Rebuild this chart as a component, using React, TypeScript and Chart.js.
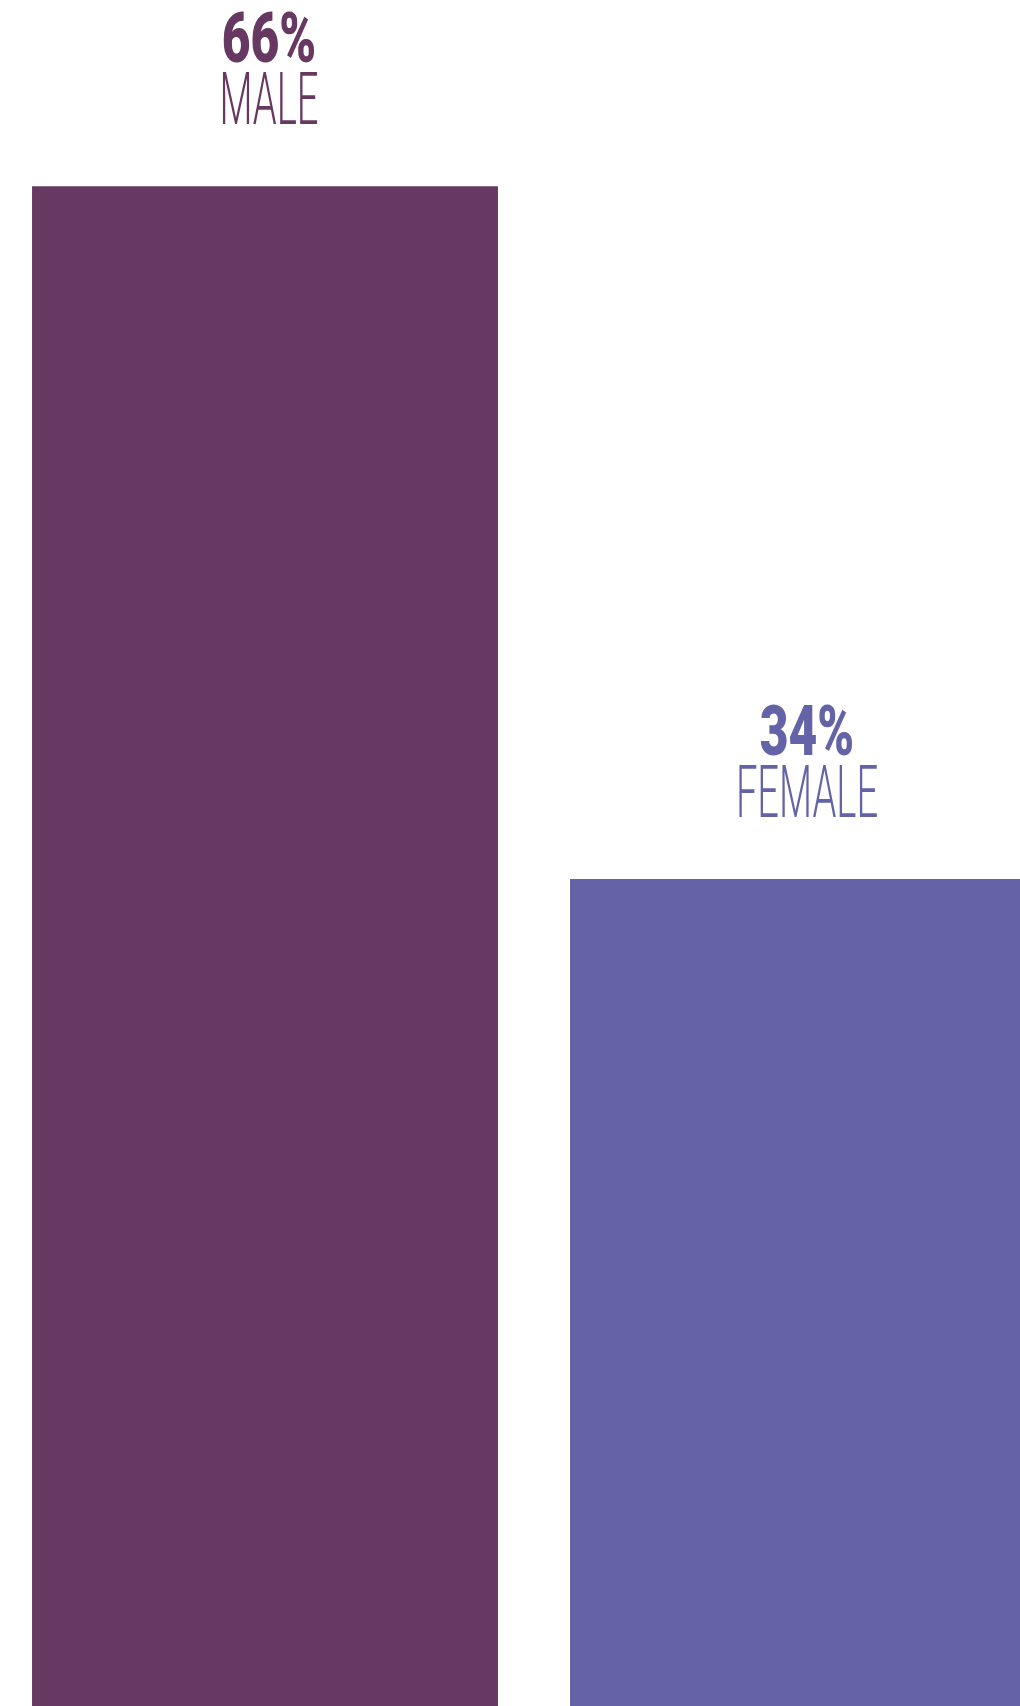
import React, { useEffect, useRef } from "react";
import { Chart, registerables } from "chart.js";

Chart.register(...registerables);

const categories = ["MALE", "FEMALE"];
const values = [66, 34];
const valueLabels = ["66%", "34%"];
const barColors = ["#673862", "#6563A8"];
const Y_MIN = -4.2;
const Y_MAX = 74.6;

const labelPlugin = {
  id: "topLabels",
  afterDatasetsDraw(chart: any) {
    const ctx = chart.ctx;
    const meta = chart.getDatasetMeta(0);
    meta.data.forEach((bar: any, i: number) => {
      const cx = bar.x + 4;
      const top = bar.y;
      ctx.save();
      ctx.fillStyle = barColors[i];
      ctx.textAlign = "center";
      ctx.textBaseline = "alphabetic";
      // value
      ctx.save();
      ctx.translate(cx, top - 124);
      ctx.scale(0.71, 1);
      ctx.font = "900 70px Roboto";
      ctx.fillText(valueLabels[i], 0, 0);
      ctx.restore();
      // category
      ctx.save();
      ctx.translate(cx, top - 62);
      ctx.scale(0.53, 1);
      ctx.font = "300 72px Roboto";
      ctx.fillText(categories[i], 0, 0);
      ctx.restore();
      ctx.restore();
    });
  },
};

export default function App() {
  const ref = useRef<HTMLCanvasElement | null>(null);
  useEffect(() => {
    if (!ref.current) return;
    const chart = new Chart(ref.current, {
      type: "bar",
      data: {
        labels: categories,
        datasets: [
          {
            data: values,
            backgroundColor: barColors,
            borderWidth: 0,
            base: Y_MIN,
            barPercentage: 0.866,
            categoryPercentage: 1,
          } as any,
        ],
      },
      options: {
        responsive: false,
        animation: false,
        devicePixelRatio: 1,
        layout: { padding: 0 },
        plugins: {
          legend: { display: false },
          tooltip: { enabled: false },
        },
        scales: {
          x: { display: false },
          y: { display: false, min: Y_MIN, max: Y_MAX },
        },
      },
      plugins: [labelPlugin],
    });
    return () => chart.destroy();
  }, []);
  return (
    <div
      style={{
        position: "absolute",
        left: 0,
        top: 0,
        width: 1020,
        height: 1706,
        overflow: "hidden",
        background: "#ffffff",
      }}
    >
      <canvas
        ref={ref}
        width={1076}
        height={1706}
        style={{ position: "absolute", left: -4, top: 0, width: 1076, height: 1706 }}
      />
    </div>
  );
}
